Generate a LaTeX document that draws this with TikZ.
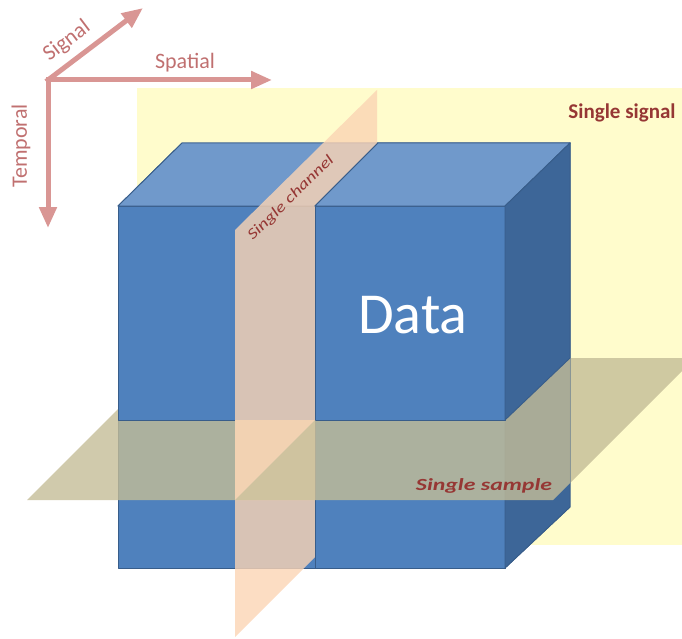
\documentclass[tikz,border=0pt]{standalone}
\usepackage{fontspec}
\setmainfont{Carlito}
\usetikzlibrary{arrows.meta}
\definecolor{CubeFront}{RGB}{79,129,189}
\definecolor{CubeTop}{RGB}{112,153,203}
\definecolor{CubeSide}{RGB}{61,102,152}
\definecolor{CubeEdge}{RGB}{56,93,138}
\definecolor{SignalFill}{RGB}{255,252,204}
\definecolor{SampleFill}{RGB}{196,189,151}
\definecolor{ChannelFill}{RGB}{251,212,180}
\definecolor{AxisCol}{RGB}{217,150,148}
\definecolor{AxisText}{RGB}{192,112,112}
\definecolor{PlaneText}{RGB}{150,55,52}

\begin{document}
\begin{tikzpicture}[
  x=1pt, y=-1pt,
  line join=round,
  face/.style={draw=CubeEdge, line width=0.9pt},
  sampleplane/.style={fill=SampleFill, fill opacity=0.8},
  channelplane/.style={fill=ChannelFill, fill opacity=0.8},
  axisarrow/.style={draw=AxisCol, line width=5pt, line cap=rect,
    -{Triangle[length=21pt,width=17pt]}},
  axislabel/.style={text=AxisText, font=\fontsize{22}{26}\selectfont},
  planelabel/.style={text=PlaneText}
]
  \useasboundingbox (0,0) rectangle (682,639);
  \clip (0,0) rectangle (682,639);

  % cube corners (front, back) and the two cuts
  \coordinate (ftl) at (118,206);
  \coordinate (ftr) at (505,206);
  \coordinate (fbr) at (505,568);
  \coordinate (fbl) at (118,568);
  \coordinate (btl) at (182,143);
  \coordinate (btr) at (570,143);
  \coordinate (bbr) at (570,507);
  \coordinate (cutf)  at (315,206);
  \coordinate (cutb)  at (378,143);
  \coordinate (cutfb) at (315,568);
  \coordinate (mfl)  at (118,420);
  \coordinate (mfr)  at (505,420);
  \coordinate (mbr)  at (570,358);
  \coordinate (mcut) at (315,420);

  % planes
  \coordinate (s1) at (27,500);
  \coordinate (s2) at (553,500);
  \coordinate (s3) at (695,358);
  \coordinate (s4) at (169,358);
  \coordinate (c1) at (235,230);
  \coordinate (c2) at (377,90);
  \coordinate (c3) at (377,495);
  \coordinate (c4) at (235,637);

  % Single signal plane (behind everything)
  \fill[SignalFill] (137,88) rectangle (690,545);

  % whole cube
  \filldraw[face, fill=CubeFront] (ftl) rectangle (fbr);
  \filldraw[face, fill=CubeTop]   (ftl) -- (btl) -- (btr) -- (ftr) -- cycle;
  \filldraw[face, fill=CubeSide]  (ftr) -- (btr) -- (bbr) -- (fbr) -- cycle;

  % Single sample plane
  \fill[sampleplane] (s1) -- (s2) -- (s3) -- (s4) -- cycle;

  % upper left block sits on the sample plane
  \filldraw[face, fill=CubeFront] (ftl) rectangle (mcut);
  \filldraw[face, fill=CubeTop]   (ftl) -- (btl) -- (cutb) -- (cutf) -- cycle;

  % Single channel plane
  \fill[channelplane] (c1) -- (c2) -- (c3) -- (c4) -- cycle;

  % right block in front of the channel plane
  \filldraw[face, fill=CubeFront] (cutf) rectangle (fbr);
  \filldraw[face, fill=CubeTop]   (cutf) -- (cutb) -- (btr) -- (ftr) -- cycle;
  \filldraw[face, fill=CubeSide]  (ftr) -- (btr) -- (bbr) -- (fbr) -- cycle;
  \begin{scope}
    \clip (cutf) -- (cutb) -- (btr) -- (bbr) -- (fbr) -- (cutfb) -- cycle;
    \fill[sampleplane] (s1) -- (s2) -- (s3) -- (s4) -- cycle;
  \end{scope}

  % upper right block
  \filldraw[face, fill=CubeFront] (cutf) rectangle (mfr);
  \filldraw[face, fill=CubeTop]   (cutf) -- (cutb) -- (btr) -- (ftr) -- cycle;
  \filldraw[face, fill=CubeSide]  (ftr) -- (btr) -- (mbr) -- (mfr) -- cycle;

  % where the two planes cross
  \fill[white] (235,420) rectangle (mcut |- 0,500);
  \fill[sampleplane]  (235,420) -- (mcut) -- (235,500) -- cycle;
  \fill[channelplane] (235,420) -- (mcut) -- (235,500) -- cycle;
  \fill[channelplane] (mcut) -- (315,500) -- (235,500) -- cycle;
  \fill[sampleplane]  (mcut) -- (315,500) -- (235,500) -- cycle;

  % axes
  \coordinate (o) at (48,80);
  \coordinate (spatialend)  at (272,80);
  \coordinate (temporalend) at (48,228);
  \coordinate (signalend)   at (143,8);
  \draw[axisarrow] (o) -- (temporalend);
  \draw[axisarrow] (o) -- (spatialend);
  \draw[axisarrow] (o) -- (signalend);

  % labels
  \node[axislabel]            (spatiallbl)  at (185,63)  {Spatial};
  \node[axislabel, rotate=37] (signallbl)   at (67,41)   {Signal};
  \node[axislabel, rotate=90] (temporallbl) at (21,146)  {Temporal};
  \node[planelabel, font=\bfseries\fontsize{21}{25}\selectfont]
    (singlesignal) at (622,113) {Single signal};
  \node[planelabel, rotate=44, font=\itshape\fontsize{15}{18}\selectfont]
    (singlechannel) at (291,198) {\scalebox{1.3}[1]{Single channel}};
  \node[planelabel, font=\bfseries\itshape\fontsize{17}{20}\selectfont]
    (singlesample) at (484,486) {\scalebox{1.4}[1]{Single sample}};
  \node[text=white, font=\fontsize{58}{64}\selectfont]
    (datalbl) at (413,315) {Data};
\end{tikzpicture}
\end{document}
